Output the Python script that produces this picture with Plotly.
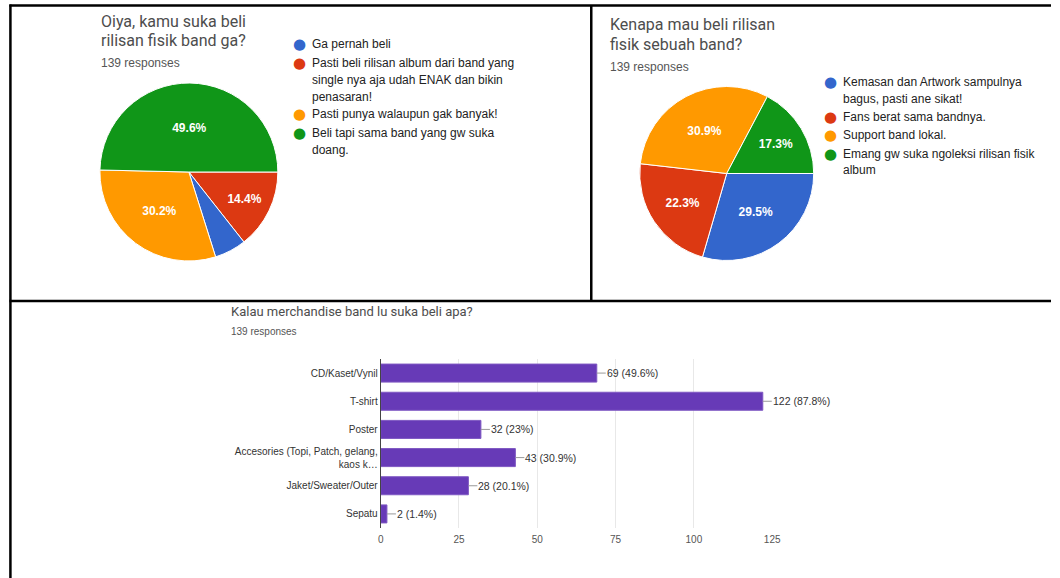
import plotly.graph_objects as go

W, H = 1060, 578

# ---------------- data ----------------
pie1_title = ["Oiya, kamu suka beli", "rilisan fisik band ga?"]
pie1_labels = ["Pasti beli rilisan album dari band yang single nya aja udah ENAK dan bikin penasaran!",
               "Ga pernah beli",
               "Pasti punya walaupun gak banyak!",
               "Beli tapi sama band yang gw suka doang."]
pie1_values = [20, 8, 42, 69]
pie1_colors = ["#dc3912", "#3366cc", "#ff9900", "#109618"]
pie1_show_pct = [True, False, True, True]
pie1_legend = [
    ("#3366cc", ["Ga pernah beli"]),
    ("#dc3912", ["Pasti beli rilisan album dari band yang", "single nya aja udah ENAK dan bikin", "penasaran!"]),
    ("#ff9900", ["Pasti punya walaupun gak banyak!"]),
    ("#109618", ["Beli tapi sama band yang gw suka", "doang."]),
]

pie2_title = ["Kenapa mau beli rilisan", "fisik sebuah band?"]
pie2_labels = ["Kemasan dan Artwork sampulnya bagus, pasti ane sikat!",
               "Fans berat sama bandnya.",
               "Support band lokal.",
               "Emang gw suka ngoleksi rilisan fisik album"]
pie2_values = [41, 31, 43, 24]
pie2_colors = ["#3366cc", "#dc3912", "#ff9900", "#109618"]
pie2_legend = [
    ("#3366cc", ["Kemasan dan Artwork sampulnya", "bagus, pasti ane sikat!"]),
    ("#dc3912", ["Fans berat sama bandnya."]),
    ("#ff9900", ["Support band lokal."]),
    ("#109618", ["Emang gw suka ngoleksi rilisan fisik", "album"]),
]

responses = "139 responses"

bar_title = "Kalau merchandise band lu suka beli apa?"
bar_categories = ["CD/Kaset/Vynil", "T-shirt", "Poster",
                  "Accesories (Topi, Patch, gelang,<br>kaos k…",
                  "Jaket/Sweater/Outer", "Sepatu"]
bar_values = [69, 122, 32, 43, 28, 2]
bar_pcts = ["49.6%", "87.8%", "23%", "30.9%", "20.1%", "1.4%"]
bar_ticks = [0, 25, 50, 75, 100, 125]

# ---------------- helpers ----------------
def px(x):
    return x / W

def py(y):
    return 1 - y / H

TITLE_FONT = dict(family="Roboto, Arial, sans-serif", size=16, color="#4d4d4d")
SMALL_FONT = dict(family="Liberation Sans, Arial, sans-serif", size=11, color="#555555")
LEG_FONT = dict(family="Liberation Sans, Arial, sans-serif", size=12, color="#222222")
PIE_TEXT = dict(family="Liberation Sans, Arial, sans-serif", size=12, color="white", weight="bold")

fig = go.Figure()

# pie 1
fig.add_trace(go.Pie(
    labels=pie1_labels, values=pie1_values, sort=False, direction="clockwise", rotation=90,
    marker=dict(colors=pie1_colors, line=dict(color="white", width=1)),
    texttemplate=["%{percent:.1%}" if s else "" for s in pie1_show_pct],
    textposition="inside", insidetextorientation="horizontal",
    textfont=PIE_TEXT,
    domain=dict(x=[px(98), px(278)], y=[py(262), py(82)]),
    showlegend=False, hoverinfo="label+percent",
))

# pie 2
fig.add_trace(go.Pie(
    labels=pie2_labels, values=pie2_values, sort=False, direction="clockwise", rotation=90,
    marker=dict(colors=pie2_colors, line=dict(color="white", width=1)),
    texttemplate="%{percent:.1%}",
    textposition="inside", insidetextorientation="horizontal",
    textfont=PIE_TEXT,
    domain=dict(x=[px(644), px(820)], y=[py(262), py(85)]),
    showlegend=False, hoverinfo="label+percent",
))

# bar chart
fig.add_trace(go.Bar(
    x=bar_values, y=bar_categories, orientation="h",
    marker=dict(color="#673ab7", line=dict(color="#7e57c2", width=1)),
    showlegend=False, hoverinfo="x+y",
))

annotations = []

def add_text(x, y, text, font, xanchor="left"):
    annotations.append(dict(x=px(x), y=py(y), xref="paper", yref="paper", text=text,
                            showarrow=False, xanchor=xanchor, yanchor="middle", font=font))

# pie 1 texts
add_text(97, 21, pie1_title[0], TITLE_FONT)
add_text(97, 41, pie1_title[1], TITLE_FONT)
add_text(97, 63, responses, dict(SMALL_FONT, size=12))
leg1_y = [[44], [63, 80, 97], [114], [133, 150]]
for (col, lines), ys in zip(pie1_legend, leg1_y):
    add_text(300, ys[0], "●", dict(family="DejaVu Sans", size=15, color=col), xanchor="center")
    for ln, yy in zip(lines, ys):
        add_text(311, yy, ln, LEG_FONT)

# pie 2 texts
add_text(612, 25, pie2_title[0], TITLE_FONT)
add_text(612, 44, pie2_title[1], TITLE_FONT)
add_text(612, 67, responses, dict(SMALL_FONT, size=12))
leg2_y = [[82, 99], [117], [135], [154, 170]]
for (col, lines), ys in zip(pie2_legend, leg2_y):
    add_text(837, ys[0], "●", dict(family="DejaVu Sans", size=15, color=col), xanchor="center")
    for ln, yy in zip(lines, ys):
        add_text(848, yy, ln, LEG_FONT)

# bar texts
add_text(229, 311, bar_title, dict(family="Roboto, Arial, sans-serif", size=13, color="#4d4d4d"))
add_text(229, 331, responses, dict(SMALL_FONT, size=10))

for v, c, p in zip(bar_values, bar_categories, bar_pcts):
    annotations.append(dict(x=v, y=c, xref="x", yref="y", text=f"{v} ({p})",
                            showarrow=True, arrowhead=0, arrowwidth=1, arrowcolor="#999999",
                            ax=9, ay=0, xanchor="left", yanchor="middle", borderpad=0,
                            font=dict(family="Liberation Sans, Arial, sans-serif", size=10.5, color="#333333")))

# borders
LINE = dict(color="black", width=2.5)
shapes = [
    dict(type="line", xref="paper", yref="paper", x0=px(7.5), x1=px(7.5), y0=py(4.5), y1=py(578), line=LINE),
    dict(type="line", xref="paper", yref="paper", x0=px(6.5), x1=px(1060), y0=py(5.5), y1=py(5.5), line=LINE),
    dict(type="line", xref="paper", yref="paper", x0=px(595), x1=px(595), y0=py(5.5), y1=py(301), line=LINE),
    dict(type="line", xref="paper", yref="paper", x0=px(6.5), x1=px(1060), y0=py(301), y1=py(301), line=LINE),
]

fig.update_layout(
    width=W, height=H, margin=dict(l=0, r=0, t=0, b=0),
    paper_bgcolor="white", plot_bgcolor="white",
    annotations=annotations, shapes=shapes, bargap=0.36,
    xaxis=dict(domain=[px(382), px(778)], range=[0, 125], tickvals=bar_ticks,
               showgrid=True, gridcolor="#e8e8e8", gridwidth=1, zeroline=False, showline=False,
               tickfont=dict(family="Liberation Sans, Arial, sans-serif", size=10, color="#555555"),
               ticks="", ticklabelstandoff=4, fixedrange=True),
    yaxis=dict(domain=[py(528), py(359)], autorange="reversed", showgrid=False,
               showline=True, linecolor="#444444", linewidth=1, ticks="",
               tickfont=dict(family="Liberation Sans, Arial, sans-serif", size=10, color="#333333"),
               fixedrange=True),
)

fig.write_html("out.html")
